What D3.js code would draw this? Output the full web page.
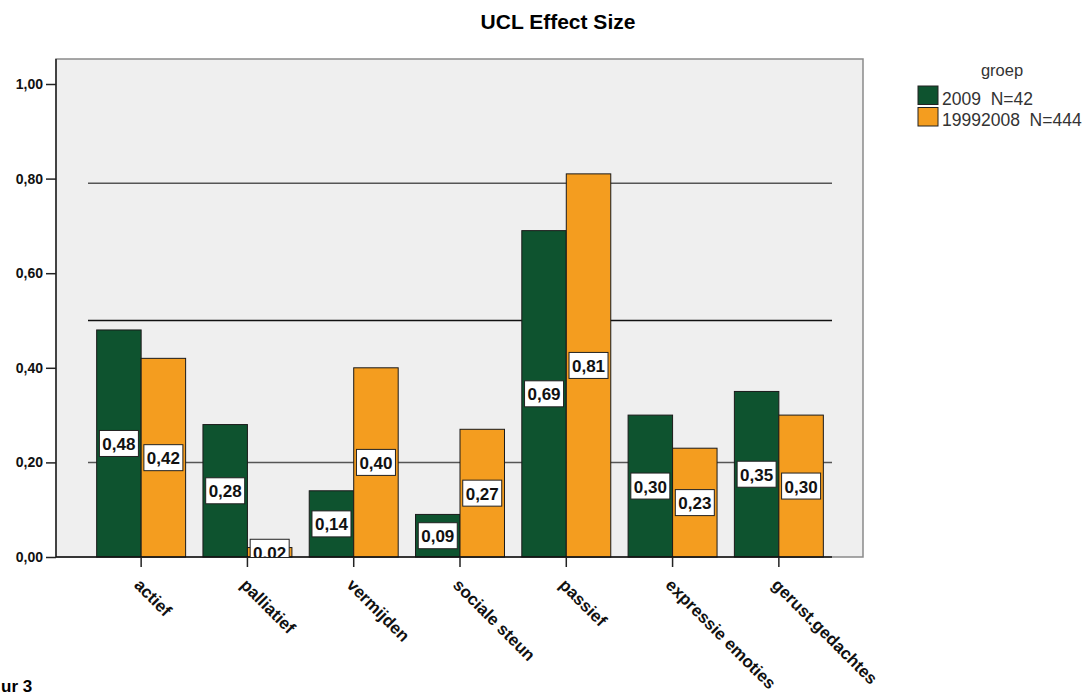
<!DOCTYPE html>
<html><head><meta charset="utf-8">
<script src="https://cdn.jsdelivr.net/npm/d3@7"></script>
<style>body{margin:0;background:#fff;} text{font-family:"Liberation Sans",Arial,sans-serif;}</style>
</head><body>
<svg id="c" width="1089" height="698"></svg>
<script>
const categories = ["actief","palliatief","vermijden","sociale steun","passief","expressie emoties","gerust.gedachtes"];
const series = ["2009  N=42","19992008  N=444"];
const values2009 = [0.48,0.28,0.14,0.09,0.69,0.30,0.35];
const values1999 = [0.42,0.02,0.40,0.27,0.81,0.23,0.30];
const refLines = [0.2,0.5,0.79];
const yTicks = [0,0.2,0.4,0.6,0.8,1.0];
const colors = ["#0e532f","#f49d1f"];

const svg = d3.select("#c");
const frame = {l:56,t:59,r:863,b:557};
const x = d3.scaleBand().domain(categories).range([88,832]).paddingInner(0.163).paddingOuter(0.0815);
const xc = d3.scaleBand().domain(categories).range([88,832]);
const y = d3.scaleLinear().domain([0,1]).range([557,84]);
const fmt = v => d3.format(".2f")(v).replace(".",",");

// title
svg.append("text").attr("x",558).attr("y",29).attr("text-anchor","middle")
  .attr("font-size",21).attr("font-weight","bold").text("UCL Effect Size");

// plot background
svg.append("rect").attr("x",frame.l).attr("y",frame.t).attr("width",frame.r-frame.l).attr("height",frame.b-frame.t)
  .attr("fill","#efefef").attr("stroke","#8a8a8a").attr("stroke-width",1.5);

// reference lines
svg.append("g").selectAll("line").data(refLines).join("line")
  .attr("x1",88).attr("x2",832).attr("y1",d=>y(d)).attr("y2",d=>y(d))
  .attr("stroke",d=>d===0.5?"#111":"#555").attr("stroke-width",1.5);

// bars
const clip = svg.append("clipPath").attr("id","pc").append("rect")
  .attr("x",frame.l).attr("y",frame.t).attr("width",frame.r-frame.l).attr("height",frame.b-frame.t);
const data = categories.map((c,i)=>({c, v:[values2009[i],values1999[i]]}));
const inner = d3.scaleBand().domain([0,1]).range([0,x.bandwidth()]);
const gb = svg.append("g");
data.forEach(d=>{
  d.v.forEach((v,j)=>{
    gb.append("rect").attr("x",x(d.c)+inner(j)).attr("y",y(v)).attr("width",inner.bandwidth()).attr("height",y(0)-y(v))
      .attr("fill",colors[j]).attr("stroke","#1a1a1a").attr("stroke-width",1);
  });
});

// axes
const ya = svg.append("g").attr("transform",`translate(${frame.l},0)`)
  .call(d3.axisLeft(y).tickValues(yTicks).tickFormat(fmt).tickSize(10).tickSizeOuter(0));
ya.select(".domain").attr("d",`M0,${frame.t}V${frame.b}`).attr("stroke","#222").attr("stroke-width",1.5);
ya.selectAll(".tick line").attr("stroke","#222").attr("stroke-width",1.5);
ya.selectAll(".tick text").attr("font-size",14).attr("font-weight","bold").attr("fill","#111")
  .attr("font-family","'Liberation Sans',Arial,sans-serif").attr("x",-13);

const xa = svg.append("g").attr("transform",`translate(0,${frame.b})`)
  .call(d3.axisBottom(xc).tickSize(10).tickSizeOuter(0));
xa.select(".domain").attr("d",`M${frame.l},0H832`).attr("stroke","#111").attr("stroke-width",1.5);
xa.selectAll(".tick line").attr("stroke","#222").attr("stroke-width",1.5);
xa.selectAll(".tick text").attr("font-size",17).attr("font-weight","bold").attr("fill","#111")
  .attr("font-family","'Liberation Sans',Arial,sans-serif")
  .attr("text-anchor","start").attr("dy",null).attr("y",null)
  .attr("transform","translate(-8,29) rotate(45)");

// data labels
const gl = svg.append("g").attr("clip-path","url(#pc)");
data.forEach(d=>{
  d.v.forEach((v,j)=>{
    const cx = x(d.c)+inner(j)+inner.bandwidth()/2, cy = y(v/2);
    gl.append("rect").attr("x",cx-19.5).attr("y",cy-13).attr("width",39).attr("height",26)
      .attr("fill","#fff").attr("stroke","#222").attr("stroke-width",1);
    gl.append("text").attr("x",cx).attr("y",cy+6.5).attr("text-anchor","middle")
      .attr("font-size",17).attr("font-weight","bold").attr("fill","#111").text(fmt(v));
  });
});

// legend
svg.append("text").attr("x",1002).attr("y",76).attr("text-anchor","middle").attr("font-size",16.5).attr("fill","#333").text("groep");
series.forEach((s,j)=>{
  svg.append("rect").attr("x",918).attr("y",86+j*21.5).attr("width",20).attr("height",18.5)
    .attr("fill",colors[j]).attr("stroke","#222").attr("stroke-width",1);
  svg.append("text").attr("x",942).attr("y",104.5+j*21.5).attr("font-size",17.5).attr("fill","#333")
    .style("white-space","pre").text(s);
});

// caption fragment (visible part)
svg.append("text").attr("x",1).attr("y",692)
  .attr("font-family","'Liberation Serif','Times New Roman',serif").attr("font-weight","bold").attr("font-size",17).text("ur 3");
</script>
</body></html>
